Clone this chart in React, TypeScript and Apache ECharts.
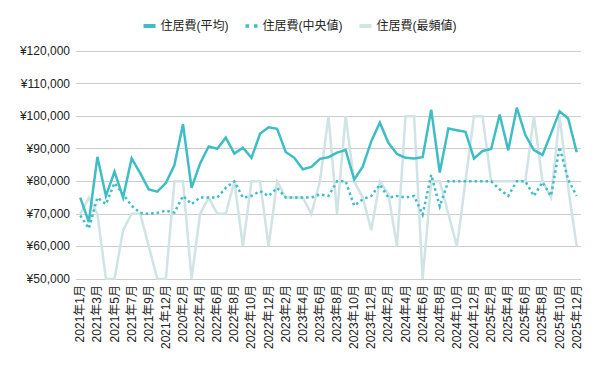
import React, { useEffect, useRef } from "react";
import * as echarts from "echarts";

const categories: string[] = [
  "2021年1月", "2021年2月", "2021年3月", "2021年4月", "2021年5月", "2021年6月",
  "2021年7月", "2021年8月", "2021年9月", "2021年10月", "2021年12月",
  "2022年1月", "2020年2月", "2022年3月", "2022年4月", "2022年5月", "2022年6月",
  "2022年7月", "2022年8月", "2022年9月", "2022年10月", "2022年11月", "2022年12月",
  "2023年1月", "2023年2月", "2023年3月", "2023年4月", "2023年5月", "2023年6月",
  "2023年7月", "2023年8月", "2023年9月", "2023年10月", "2023年11月", "2023年12月",
  "2024年1月", "2024年2月", "2024年3月", "2024年4月", "2024年5月", "2024年6月",
  "2024年7月", "2024年8月", "2024年9月", "2024年10月", "2024年11月", "2024年12月",
  "2025年1月", "2025年2月", "2025年3月", "2025年4月", "2025年5月", "2025年6月",
  "2025年7月", "2025年8月", "2025年9月", "2025年10月", "2025年11月", "2025年12月",
];

const averageValues: number[] = [
  75000, 67500, 87500, 75500, 83000, 75000, 87000, 82500, 77500, 76800,
  79500, 85000, 97500, 78000, 85500, 90700, 90000, 93400, 88500, 90300,
  87200, 94600, 96600, 96100, 89000, 87200, 83700, 84400, 86900, 87400,
  88800, 89600, 80500, 84500, 92300, 98000, 91800, 88400, 87200, 87000,
  87400, 102000, 82700, 96200, 95700, 95200, 87000, 89300, 89900, 100500,
  89500, 102600, 94200, 89600, 88100, 94700, 101500, 99300, 88900,
];

const medianValues: number[] = [
  69500, 65500, 75000, 73000, 79500, 76000, 72500, 70300, 70000, 70300,
  71000, 70400, 75500, 73000, 75000, 75000, 75000, 78000, 80000, 75000,
  75500, 77000, 75500, 78000, 75000, 75000, 75000, 75000, 76000, 75500,
  80000, 80000, 72500, 74500, 75500, 79000, 75000, 75500, 75000, 75500,
  69800, 82000, 72300, 80000, 80000, 80000, 80000, 80000, 80000, 77500,
  75500, 80000, 80000, 75500, 79700, 75500, 90500, 80500, 75500,
];

const modeValues: number[] = [
  70000, 75000, 70000, 50000, 50000, 65000, 70000, 70000, 60000, 50000,
  50000, 80000, 80000, 50000, 70000, 75000, 70000, 70000, 80000, 60000,
  80000, 80000, 60000, 80000, 75000, 75000, 75000, 70000, 80000, 100000,
  70000, 100000, 80000, 75000, 65000, 80000, 76000, 60000, 100000, 100000,
  50000, 80000, 80000, 70000, 60000, 80000, 100000, 100000, 80000, 80000,
  80000, 80000, 80000, 100000, 80000, 75000, 100000, 78000, 60000,
];

const seriesNames = ["住居費(平均)", "住居費(中央値)", "住居費(最頻値)"];

const TEAL = "#3fbdc5";
const PALE = "#d0e3e5";
const FONT = "'Liberation Sans', Arial, 'Noto Sans CJK JP', sans-serif";

export default function App() {
  const ref = useRef<HTMLDivElement>(null);

  useEffect(() => {
    if (!ref.current) return;
    const chart = echarts.init(ref.current, undefined, { renderer: "svg" });
    chart.setOption({
      animation: false,
      textStyle: { fontFamily: FONT },
      legend: {
        top: 15,
        left: "center",
        itemWidth: 12,
        itemHeight: 4,
        itemGap: 17,
        textStyle: { fontSize: 12, color: "#222", fontFamily: FONT },
        itemStyle: { borderWidth: 0 },
        data: [
          { name: seriesNames[0], icon: "rect", itemStyle: { color: TEAL } },
          {
            name: seriesNames[1],
            icon: "path://M0,0h3v3h-3z M7,0h3v3h-3z",
            itemStyle: { color: TEAL },
          },
          { name: seriesNames[2], icon: "rect", itemStyle: { color: PALE } },
        ],
      },
      grid: { left: 76, right: 19, top: 51, bottom: 92, containLabel: false },
      xAxis: {
        type: "category",
        data: categories,
        boundaryGap: true,
        axisLine: { show: false },
        axisTick: { show: false },
        axisLabel: {
          interval: 1,
          rotate: 90,
          fontSize: 12,
          color: "#222",
          margin: 6,
          fontFamily: FONT,
        },
      },
      yAxis: {
        type: "value",
        min: 50000,
        max: 120000,
        interval: 10000,
        axisLine: { show: false },
        axisTick: { show: false },
        splitLine: { lineStyle: { color: "#cccccc", width: 1 } },
        axisLabel: {
          fontSize: 12,
          color: "#222",
          margin: 6,
          fontFamily: FONT,
          formatter: (v: number) => "¥" + v.toLocaleString("en-US"),
        },
      },
      series: [
        {
          name: seriesNames[2],
          type: "line",
          data: modeValues,
          symbol: "none",
          z: 1,
          lineStyle: { color: PALE, width: 2.5, join: "miter", miterLimit: 10 },
          itemStyle: { color: PALE },
        },
        {
          name: seriesNames[1],
          type: "line",
          data: medianValues,
          symbol: "none",
          z: 2,
          lineStyle: {
            color: TEAL,
            width: 2.5,
            type: [2.5, 3],
            join: "miter",
            miterLimit: 10,
          },
          itemStyle: { color: TEAL },
        },
        {
          name: seriesNames[0],
          type: "line",
          data: averageValues,
          symbol: "none",
          z: 3,
          lineStyle: { color: TEAL, width: 2.5, join: "miter", miterLimit: 10 },
          itemStyle: { color: TEAL },
        },
      ],
    });
    return () => chart.dispose();
  }, []);

  return (
    <div
      ref={ref}
      style={{ position: "fixed", left: 0, top: 0, width: 600, height: 371, background: "#fff" }}
    />
  );
}
